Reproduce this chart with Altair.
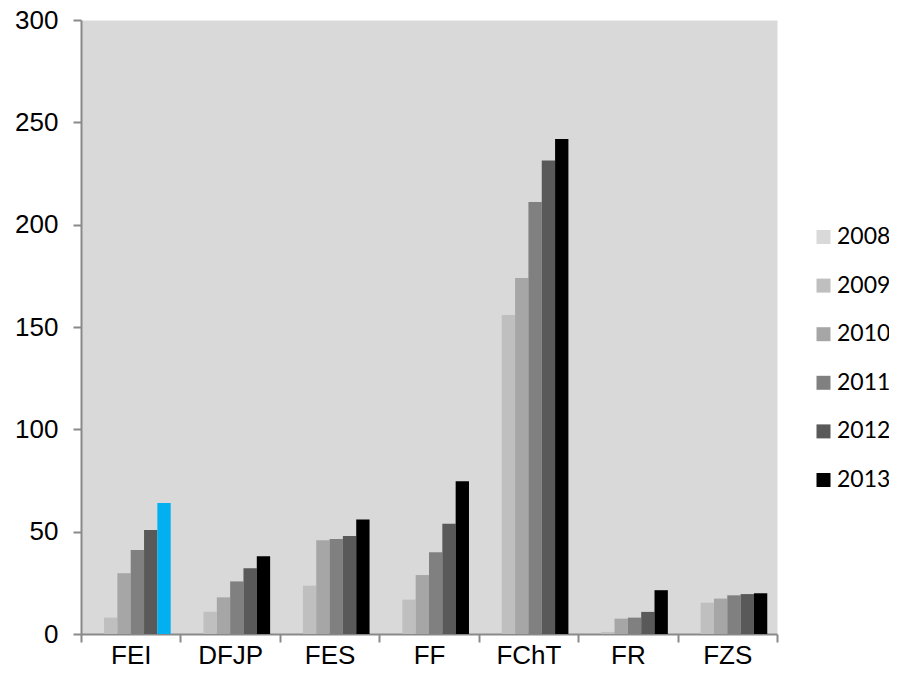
import altair as alt
import pandas as pd

categories = ["FEI", "DFJP", "FES", "FF", "FChT", "FR", "FZS"]
years = ["2008", "2009", "2010", "2011", "2012", "2013"]
v2008 = [0, 0, 0, 0, 0, 0, 0]
v2009 = [8.0, 10.9, 23.6, 16.8, 155.9, 1.0, 15.3]
v2010 = [29.7, 17.9, 45.8, 28.8, 173.9, 7.5, 17.3]
v2011 = [41.0, 25.7, 46.4, 39.9, 211.1, 8.0, 18.9]
v2012 = [50.8, 32.1, 47.9, 53.9, 231.4, 10.8, 19.5]
v2013 = [64.0, 38.0, 55.9, 74.6, 241.9, 21.4, 19.9]
colors = ["#d9d9d9", "#bfbfbf", "#a6a6a6", "#808080", "#595959", "#000000"]
highlight_color = "#00B0F0"
y_ticks = [0, 50, 100, 150, 200, 250, 300]

series = [v2008, v2009, v2010, v2011, v2012, v2013]
rows = []
for yr, vals in zip(years, series):
    for c, v in zip(categories, vals):
        rows.append({"cat": c, "year": yr, "value": v})
df = pd.DataFrame(rows)

axis_col = "#898989"

chart = alt.Chart(df).mark_bar().encode(
    x=alt.X("cat:N", sort=categories, title=None,
            scale=alt.Scale(paddingInner=0, paddingOuter=0),
            axis=alt.Axis(tickBand="extent", labelAngle=0, labelFont="Liberation Sans",
                          labelFontSize=26, labelColor="black", labelPadding=21,
                          labelBaseline="alphabetic",
                          tickSize=8, tickColor=axis_col, tickWidth=2,
                          domainColor=axis_col, domainWidth=2, grid=False)),
    xOffset=alt.XOffset("year:N", sort=years,
                        scale=alt.Scale(paddingInner=0, paddingOuter=0.73)),
    y=alt.Y("value:Q", title=None,
            scale=alt.Scale(domain=[0, 300], nice=False, zero=True),
            axis=alt.Axis(values=y_ticks, labelFont="Liberation Sans", labelFontSize=26,
                          labelColor="black", labelPadding=15, tickSize=8,
                          tickColor=axis_col, tickWidth=2, domainColor=axis_col,
                          domainWidth=2, grid=False)),
    color=alt.condition(
        "datum.cat === 'FEI' && datum.year === '2013'",
        alt.value(highlight_color),
        alt.Color("year:N", sort=years,
                  scale=alt.Scale(domain=years, range=colors),
                  legend=alt.Legend(title=None, orient="none", legendX=731, legendY=205.5,
                                    symbolType="square", symbolSize=196,
                                    symbolStrokeWidth=0, labelFont="Lato",
                                    labelFontSize=23, labelColor="black",
                                    labelOffset=2, rowPadding=24.6, padding=0)),
    ),
).properties(
    width=696,
    height=614,
    autosize=alt.AutoSizeParams(type="none"),
    padding={"left": 73, "top": 12, "right": 112, "bottom": 35},
).configure(
    background="white"
).configure_view(
    fill="#d9d9d9", stroke="transparent"
)

chart.save("out.html", embed_options={"renderer": "svg", "actions": False})
